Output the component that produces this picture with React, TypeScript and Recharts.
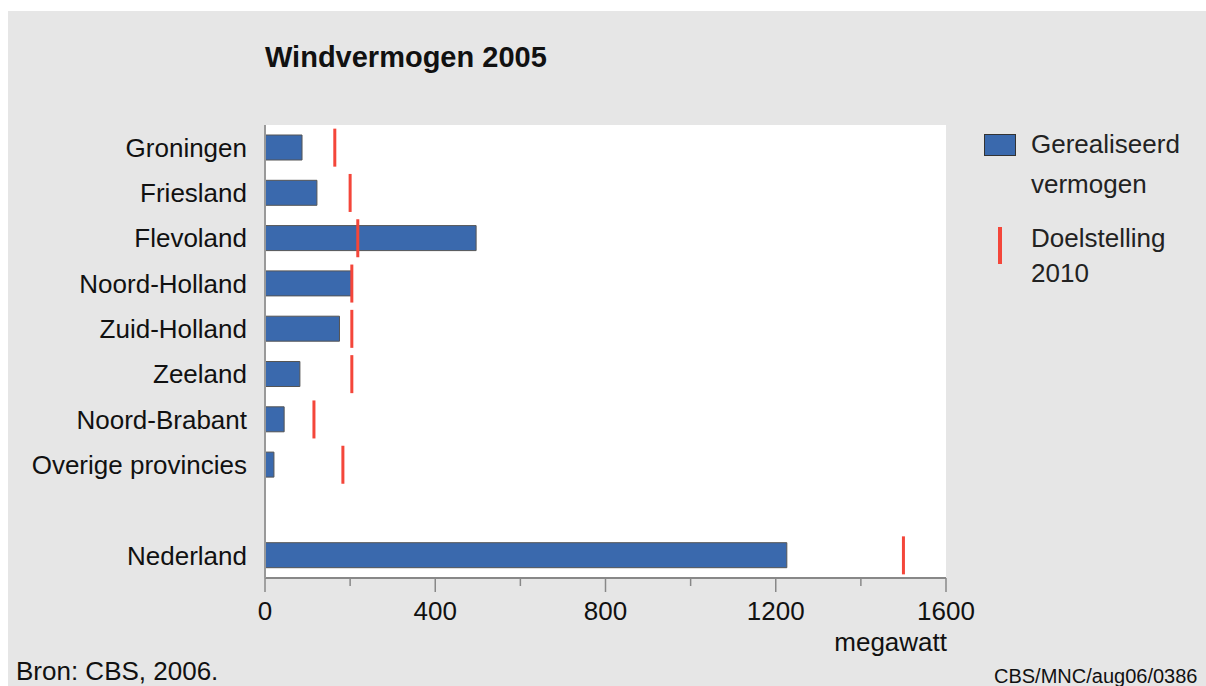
import React from "react";
import { ComposedChart, Bar, Scatter, XAxis, YAxis } from "recharts";

const provinces = [
  "Groningen",
  "Friesland",
  "Flevoland",
  "Noord-Holland",
  "Zuid-Holland",
  "Zeeland",
  "Noord-Brabant",
  "Overige provincies",
  "",
  "Nederland",
];
const realised = [87, 122, 496, 204, 175, 82, 45, 21, null, 1226];
const target2010 = [164, 200, 218, 204, 204, 204, 115, 183, null, 1500];
const xTicks = [0, 200, 400, 600, 800, 1000, 1200, 1400, 1600];

const data = provinces.map((name, i) => ({
  name,
  realised: realised[i],
  target: target2010[i],
}));

const FONT = '"Liberation Sans", Arial, Helvetica, sans-serif';
const BLUE = "#3a69ad";
const RED = "#f4463a";

function TargetMark(props: any) {
  const { cx, cy } = props;
  if (cx == null || cy == null || isNaN(cx) || isNaN(cy)) return null;
  return <rect x={cx - 1.5} y={cy - 19} width={3} height={38} fill={RED} />;
}

function XTick(props: any) {
  const { x, y, payload } = props;
  const major = payload.value % 400 === 0;
  return (
    <g>
      <line x1={x} x2={x} y1={y} y2={y + (major ? 14 : 8)} stroke="#888" strokeWidth={1.5} />
      {major && (
        <text x={x} y={y + 42} textAnchor="middle" fontSize={26} fill="#111" fontFamily={FONT}>
          {payload.value}
        </text>
      )}
    </g>
  );
}

// legend drawn by hand so it does not eat into the plot width
function LegendBox() {
  return (
    <div
      style={{
        position: "absolute",
        left: 976,
        top: 113,
        fontSize: 26,
        color: "#222",
        lineHeight: "40px",
      }}
    >
      <div style={{ display: "flex" }}>
        <div
          style={{
            width: 32,
            height: 22,
            background: BLUE,
            border: "1px solid #333",
            boxSizing: "border-box",
            marginTop: 10,
            marginRight: 15,
          }}
        />
        <div>
          Gerealiseerd
          <br />
          vermogen
        </div>
      </div>
      <div style={{ display: "flex", marginTop: 17 }}>
        <div style={{ width: 4, height: 37, background: RED, marginLeft: 14, marginRight: 29, marginTop: 6 }} />
        <div style={{ lineHeight: "35px" }}>
          Doelstelling
          <br />
          2010
        </div>
      </div>
    </div>
  );
}

export default function App() {
  return (
    <div
      style={{
        position: "absolute",
        left: 8,
        top: 11,
        width: 1198,
        height: 675,
        background: "#e6e6e6",
        fontFamily: FONT,
        overflow: "hidden",
      }}
    >
      <div style={{ position: "absolute", left: 257, top: 30, fontSize: 29, fontWeight: 700, color: "#111" }}>
        Windvermogen 2005
      </div>
      <ComposedChart
        width={1198}
        height={675}
        data={data}
        layout="vertical"
        margin={{ top: 114, right: 260, bottom: 68, left: 7 }}
      >
        <rect x={257} y={114} width={681} height={453} fill="#fff" />
        <XAxis
          type="number"
          domain={[0, 1600]}
          ticks={xTicks}
          interval={0}
          height={40}
          tickSize={0}
          tickMargin={0}
          tick={<XTick />}
          axisLine={{ stroke: "#888", strokeWidth: 2 }}
        />
        <YAxis
          type="category"
          dataKey="name"
          width={250}
          tickLine={false}
          tickSize={0}
          tickMargin={18}
          interval={0}
          axisLine={{ stroke: "#999", strokeWidth: 2 }}
          tick={{ fontSize: 26, fill: "#111", fontFamily: FONT }}
        />
        <Bar
          dataKey="realised"
          barSize={25}
          fill={BLUE}
          stroke="#555"
          strokeWidth={1}
          isAnimationActive={false}
        />
        <Scatter dataKey="target" shape={<TargetMark />} isAnimationActive={false} />
      </ComposedChart>
      <LegendBox />
      <div style={{ position: "absolute", left: 814, top: 616, width: 125, textAlign: "right", fontSize: 26, color: "#111" }}>
        megawatt
      </div>
      <div style={{ position: "absolute", left: 8, top: 645, fontSize: 26, color: "#111" }}>
        Bron: CBS, 2006.
      </div>
      <div style={{ position: "absolute", left: 986, top: 654, fontSize: 20, color: "#111", whiteSpace: "nowrap" }}>
        CBS/MNC/aug06/0386
      </div>
    </div>
  );
}
